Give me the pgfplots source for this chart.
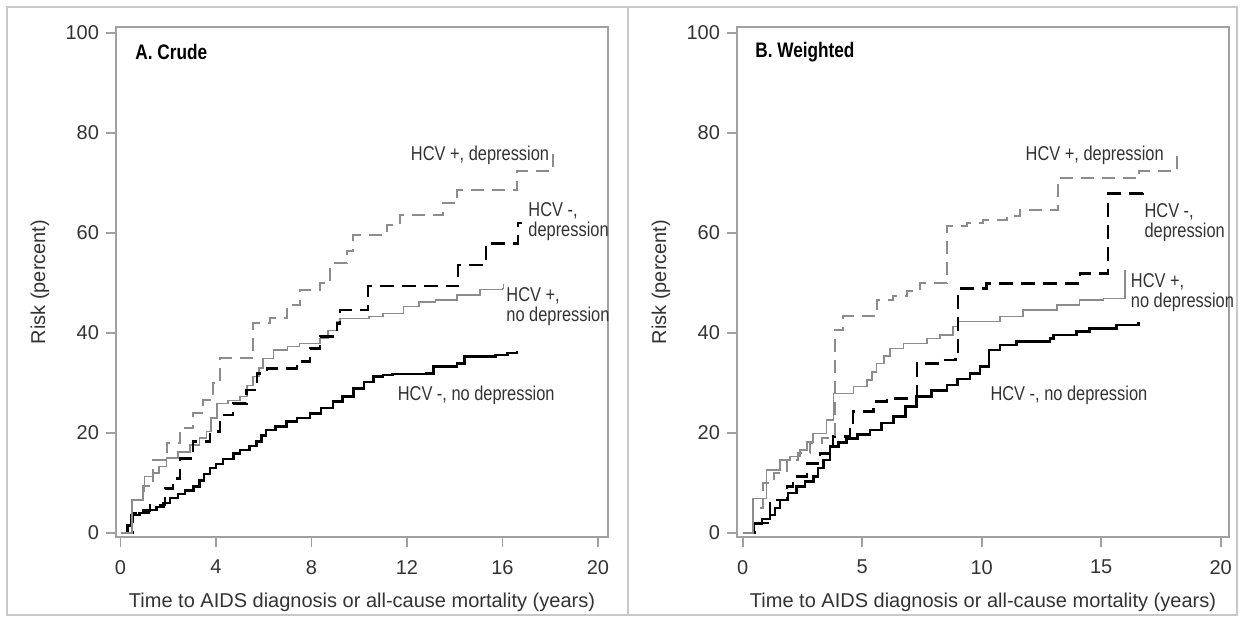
\documentclass[border=0pt]{standalone}
\usepackage{fontspec}
\setmainfont{Liberation Sans}
\newfontfamily\narrowfont{Liberation Sans}[FakeStretch=0.82]
\usepackage{pgfplots}
\pgfplotsset{compat=1.18}
\definecolor{axgray}{HTML}{A0A0A0}
\definecolor{framegray}{HTML}{C8C8C8}
\definecolor{txtgray}{HTML}{333333}
\definecolor{curvegray}{HTML}{8C8C8C}
\pgfplotsset{
  kmstyle/.style={
    scale only axis, width=246pt, height=255pt,
    anchor=south west,
    ymin=-0.8, ymax=101.2,
    ytick={0,20,...,100},
    axis line style={axgray, line width=0.9pt},
    tick style={axgray, line width=0.9pt},
    major tick length=5pt,
    tick align=outside,
    xtick pos=left, ytick pos=left,
    ticklabel style={font=\fontsize{10}{12}\selectfont, text=txtgray},
    xticklabel style={yshift=-3pt},
    label style={font=\fontsize{10}{12}\selectfont, text=txtgray},
    xlabel style={at={(axis description cs:0.5,-0.1275)}, anchor=center},
    ylabel style={at={(axis description cs:-0.1545,0.5)}, anchor=center},
    /pgf/number format/assume math mode=true,
    clip=false,
    xlabel={Time to AIDS diagnosis or all-cause mortality (years)},
    ylabel={Risk (percent)},
  },
  noHCVnodep/.style={const plot, black, line width=1.3pt},
  HCVnodep/.style={const plot, curvegray, line width=0.8pt},
  noHCVdep/.style={const plot, black, line width=1.1pt, dash pattern=on 7pt off 4pt},
  HCVdep/.style={const plot, curvegray, line width=1pt, dash pattern=on 6.5pt off 4pt},
}
\tikzset{
  curvelab/.style={font=\narrowfont\fontsize{10}{10}\selectfont, text=txtgray, align=left, inner sep=0pt},
  panellab/.style={font=\narrowfont\bfseries\fontsize{10.5}{12}\selectfont, anchor=west, inner sep=0pt},
}
\begin{document}
\begin{tikzpicture}
\useasboundingbox (0,0) rectangle (622pt,-312pt);
% frame and divider
\draw[framegray, line width=0.8pt] (3.5pt,-3.5pt) rectangle (618.5pt,-307.5pt);
\draw[framegray, line width=0.8pt] (314pt,-3.5pt) -- (314pt,-307.5pt);

% ---------------- A. Crude
\begin{axis}[kmstyle, at={(58pt,-268.5pt)},
  xmin=-0.19, xmax=20.42, xtick={0,4,...,20}]
\addplot[noHCVnodep] coordinates {
(0,0) (0.3,1.5) (0.47,3.6) (0.8,4) (1.2,4.6) (1.5,5.2) (1.8,6) (2.07,7) (2.4,7.8) (2.7,8.5)
(3.05,9.3) (3.3,10.5) (3.5,11.8) (3.75,13) (4.0,13.8) (4.3,14.8) (4.72,15.9) (5.0,16.6)
(5.4,17.4) (5.7,18.3) (5.9,19.5) (6.1,20.6) (6.5,21.3) (6.96,22.3) (7.4,23) (7.94,23.9)
(8.4,25) (8.9,26.3) (9.3,27.3) (9.75,28.9) (10.2,30.2) (10.6,31.3) (11.0,31.6) (11.4,31.8)
(12.8,31.9) (13.1,33.3) (14.1,33.9) (14.4,35.3) (15.7,35.6) (16.2,36) (16.6,36.3)};
\addplot[HCVnodep] coordinates {
(0,0) (0.47,6.6) (0.95,8.3) (1.0,11.3) (1.37,12) (1.6,13.3) (1.93,15) (2.4,16.2) (2.9,17.6)
(3.3,19) (3.6,20.3) (3.8,23) (4.03,25.9) (4.5,26.5) (5.0,27.3) (5.3,29.5) (5.56,31.3)
(5.8,33) (5.98,34.9) (6.4,36.6) (7.0,37.3) (7.5,37.9) (8.36,38.9) (8.7,40.5) (9.06,42.3)
(9.2,42.9) (10.4,43.3) (11.0,43.9) (11.85,45.3) (12.5,46.2) (13.2,46.6) (14.1,47.6)
(15.06,48.7) (16.0,48.9) (16.05,49.8)};
\addplot[noHCVdep] coordinates {
(0,0) (0.5,4) (0.9,4.5) (1.24,5.6) (1.86,8.9) (2.2,10.9) (2.5,14.9) (3.05,18.3) (3.75,20.3)
(4.17,23.6) (4.72,25.9) (5.28,28.6) (5.7,31.9) (6.12,32.9) (7.38,34.3) (7.94,36.9)
(8.36,39.3) (9.06,41.9) (9.2,44.6) (10.38,49.4) (14.15,53.6) (15.3,57.9) (16.66,62) (16.8,62)};
\addplot[HCVdep] coordinates {
(0,0) (0.47,6.6) (0.95,9.3) (1.37,14.6) (1.93,17.9) (2.49,20.9) (3.05,23.9) (3.47,26.6)
(3.89,29.9) (4.17,34.9) (5.56,41.9) (6.26,42.9) (6.96,45.6) (7.5,48.6) (8.36,49.9)
(8.78,53.9) (9.47,56.3) (9.75,59.6) (11.15,61.6) (11.7,63.6) (13.5,65.9) (14.1,68.6)
(16.6,72.3) (18.1,77)};
\node[panellab] at (axis cs:0.61,96.2) {A. Crude};
\node[curvelab, anchor=center] at (axis cs:15.06,75.6) {HCV +, depression};
\node[curvelab, anchor=west] at (axis cs:17.07,62.2) {HCV -,\\depression};
\node[curvelab, anchor=west] at (axis cs:16.15,45.3) {HCV +,\\no depression};
\node[curvelab, anchor=center] at (axis cs:14.9,27.6) {HCV -, no depression};
\end{axis}

% ---------------- B. Weighted
\begin{axis}[kmstyle, at={(368.5pt,-268.5pt)},
  xmin=-0.24, xmax=20.35, xtick={0,5,...,20}]
\addplot[noHCVnodep] coordinates {
(0,0) (0.44,1.9) (0.8,2.8) (1.14,3.6) (1.35,5) (1.56,6.6) (1.9,8) (2.26,9.3) (2.6,10.3)
(2.95,11.3) (3.15,13) (3.37,14.6) (3.65,17.3) (4.0,18.1) (4.35,18.9) (4.8,19.7) (5.33,20.6)
(5.8,22) (6.3,23.3) (6.8,25.3) (7.28,27.3) (7.9,28.5) (8.54,29.6) (9.0,30.8) (9.51,31.9)
(9.93,33.3) (10.3,36.6) (10.77,37.6) (11.46,38.3) (12.86,38.9) (13.0,39.6) (13.97,40.3)
(14.5,40.9) (15.65,41.6) (16.55,42.1)};
\addplot[HCVnodep] coordinates {
(0,0) (0.44,6.9) (1.0,12.6) (1.56,14.6) (1.98,15.3) (2.4,16.6) (2.7,18.2) (2.95,19.9)
(3.51,22.6) (3.79,27.9) (4.63,29.3) (5.19,30.6) (5.4,32.2) (5.6,33.9) (5.9,35.4) (6.16,36.9)
(6.72,37.9) (7.7,38.9) (8.26,39.6) (8.81,41.3) (9.02,42.3) (10.77,43.3) (11.74,44.6)
(13.14,45.6) (14.1,46.6) (15.1,46.9) (16.0,52.5)};
\addplot[noHCVdep] coordinates {
(0,0) (0.5,2) (1.14,6.6) (1.84,9.3) (2.12,11.3) (2.68,13.9) (3.23,15.9) (3.79,19.3)
(4.49,21.6) (4.63,24.3) (5.47,26.3) (6.03,26.9) (7.28,33.9) (8.4,34.6) (8.9,35.6)
(9.02,48.9) (10.2,49.9) (14.1,51.9) (15.3,67.9) (16.76,68.3)};
\addplot[HCVdep] coordinates {
(0,0) (0.44,5) (0.86,9.9) (1.3,12) (1.84,14.6) (2.3,16) (2.82,17.9) (3.3,19) (3.86,40.6)
(4.21,43.3) (5.6,46.6) (6.3,47.3) (6.86,48.3) (7.42,49.9) (8.54,61.3) (9.37,61.9)
(10.07,62.6) (11.05,63.3) (11.6,64.6) (13.2,70.9) (16.6,72.3) (18.16,75.9)};
\node[panellab] at (axis cs:0.51,96.2) {B. Weighted};
\node[curvelab, anchor=center] at (axis cs:14.73,75.6) {HCV +, depression};
\node[curvelab, anchor=west] at (axis cs:16.8,62) {HCV -,\\depression};
\node[curvelab, anchor=west] at (axis cs:16.23,48.1) {HCV +,\\no depression};
\node[curvelab, anchor=center] at (axis cs:13.65,27.6) {HCV -, no depression};
\end{axis}
\end{tikzpicture}
\end{document}
